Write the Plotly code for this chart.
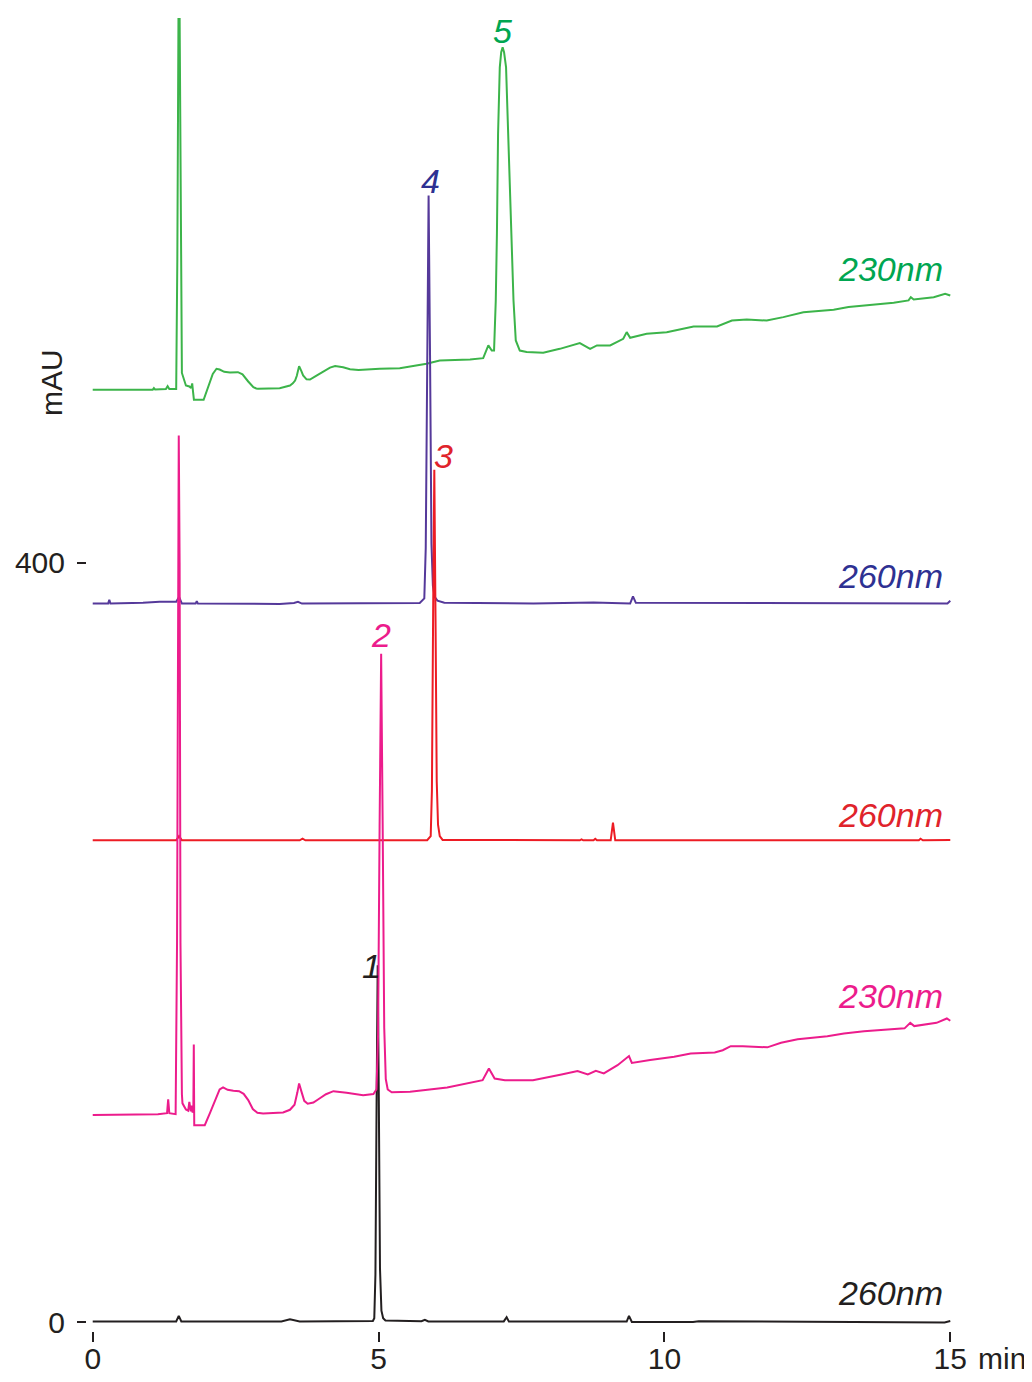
import plotly.graph_objects as go

# ---------------- data (time in min, absorbance in mAU) ----------------
green_t = [0.00, 1.05, 1.07, 1.09, 1.28, 1.31, 1.34, 1.46, 1.48, 1.50, 1.52, 1.54, 1.56, 1.63, 1.69,
           1.72, 1.74, 1.755, 1.77, 1.94, 2.02, 2.10, 2.165, 2.22, 2.30, 2.40, 2.54, 2.62, 2.72, 2.81, 2.86,
           2.89, 3.27, 3.45, 3.50, 3.54, 3.57, 3.61, 3.65, 3.68, 3.74, 3.80, 3.90, 4.05, 4.15, 4.24, 4.38,
           4.50, 4.65, 5.02, 5.37, 5.84, 6.07, 6.60, 6.83, 6.92, 6.98,
           7.02, 7.05, 7.07, 7.09, 7.12, 7.145, 7.17, 7.195, 7.23, 7.27, 7.32, 7.36, 7.40, 7.47, 7.59, 7.88, 8.17,
           8.52, 8.70, 8.82, 9.05, 9.28, 9.34, 9.40, 9.69, 10.04, 10.51, 10.92, 11.18, 11.44, 11.79,
           12.08, 12.43, 12.96, 13.22, 13.54, 14.01, 14.27, 14.31, 14.36, 14.71, 14.91, 15.00]
green_v = [491.2, 491.2, 492.0, 491.3, 491.5, 493.0, 491.5, 491.5, 560.0, 688.0, 688.0, 560.0, 500.0, 493.4, 492.9,
           492.0, 494.5, 490.0, 485.9, 485.9, 493.0, 499.5, 502.2, 501.8, 500.6, 500.3, 500.4, 499.3, 495.5, 492.5, 491.8,
           491.7, 492.0, 493.4, 494.5, 496.0, 498.5, 503.6, 501.0, 498.7, 496.6, 496.5, 498.3, 501.2, 502.8, 503.6, 503.0,
           502.0, 501.6, 502.2, 502.5, 504.8, 506.6, 507.1, 507.8, 514.5, 511.8,
           511.8, 538.2, 573.3, 626.0, 661.0, 669.0, 671.6, 669.0, 661.0, 626.0, 573.3, 538.2, 517.1, 511.8, 511.0, 510.6, 512.7,
           515.7, 512.7, 514.5, 514.5, 518.0, 521.5, 518.5, 520.6, 521.5, 524.5, 524.5, 527.6, 528.2, 527.6,
           529.4, 532.0, 533.3, 534.7, 535.6, 537.0, 538.2, 539.9, 538.7, 539.9, 541.7, 540.8]

blue_t = [0.00, 0.27, 0.29, 0.31, 0.88, 1.17, 1.46, 1.51, 1.56, 1.80, 1.82, 1.84, 3.27, 3.52, 3.59, 3.66,
          5.72, 5.80, 5.825, 5.85, 5.875, 5.90, 5.925, 5.95, 5.98, 6.03, 6.15, 7.71, 8.76, 9.40, 9.45,
          9.50, 10.51, 14.95, 15.00]
blue_v = [378.5, 378.5, 380.5, 378.5, 378.9, 379.4, 379.4, 382.0, 378.5, 378.5, 379.8, 378.5, 378.3, 378.8, 379.4, 378.5,
          378.8, 381.2, 407.8, 509.7, 593.5, 509.7, 410.0, 388.0, 382.0, 380.0, 378.9, 378.5, 379.0, 378.5, 382.3,
          378.9, 378.9, 378.6, 380.0]

red_t = [0.00, 1.46, 1.51, 1.56, 3.62, 3.67, 3.72, 5.85, 5.912, 5.933, 5.954, 5.975, 5.996, 6.017, 6.04,
         6.07, 6.12, 8.52, 8.55, 8.58, 8.76, 8.79, 8.82, 9.06, 9.10, 9.14, 14.45, 14.48, 14.52, 15.00]
red_v = [253.8, 253.8, 256.0, 253.8, 253.8, 254.6, 253.8, 253.8, 256.0, 280.0, 372.0, 449.0, 372.0, 285.0, 262.0,
         256.0, 254.0, 253.8, 254.3, 253.8, 253.8, 254.6, 253.8, 253.8, 263.1, 253.8, 253.8, 254.6, 253.8, 254.0]

pink_t = [0.00, 1.14, 1.30, 1.32, 1.34, 1.38, 1.45, 1.475, 1.49, 1.505, 1.52, 1.535, 1.56, 1.57, 1.63, 1.67,
          1.69, 1.715, 1.73, 1.745, 1.76, 1.768, 1.776, 1.96, 2.05, 2.15, 2.22, 2.28, 2.36, 2.46, 2.56, 2.64,
          2.72, 2.80, 2.88, 2.98, 3.33, 3.45, 3.53, 3.58, 3.61, 3.65, 3.70, 3.76, 3.86, 3.96, 4.08, 4.21,
          4.33, 4.44, 4.73, 4.91, 4.964, 4.991, 5.018, 5.045, 5.072, 5.099, 5.126,
          5.16, 5.23, 5.55, 6.20, 6.82, 6.93, 7.03, 7.21, 7.70, 8.20, 8.48, 8.66, 8.80, 8.94, 9.18, 9.38,
          9.43, 9.75, 10.17, 10.46, 10.88, 11.02, 11.16, 11.37, 11.80, 12.04, 12.33, 12.85, 13.14, 13.49,
          14.20, 14.30, 14.37, 14.76, 14.94, 15.00]
pink_v = [109.0, 109.5, 110.0, 117.3, 110.0, 109.9, 109.5, 200.0, 400.0, 467.0, 400.0, 200.0, 120.0, 115.2, 112.0, 111.3,
          116.0, 111.0, 114.0, 110.5, 111.0, 146.2, 103.7, 103.7, 110.0, 118.0, 122.5, 123.6, 122.3, 121.8, 121.6, 120.2,
          116.9, 112.2, 110.2, 109.9, 110.4, 111.8, 114.5, 121.0, 125.7, 121.5, 116.5, 115.0, 115.6, 117.6, 120.0, 121.6,
          121.3, 120.8, 119.5, 120.1, 122.6, 151.3, 260.8, 352.0, 260.8, 155.0, 128.0,
          122.5, 121.0, 121.3, 123.5, 127.4, 133.6, 128.3, 127.4, 127.4, 130.4, 132.2, 130.4, 132.3, 131.0, 135.3, 140.1,
          136.5, 138.0, 139.7, 141.5, 142.0, 143.2, 145.3, 145.3, 144.7, 147.1, 149.0, 150.6, 152.0, 153.2,
          154.7, 157.6, 155.9, 157.6, 159.9, 158.7]

black_t = [0.00, 1.46, 1.505, 1.55, 3.30, 3.45, 3.62, 4.90, 4.925, 4.945, 4.965, 4.985, 5.005, 5.025, 5.05,
           5.08, 5.12, 5.75, 5.81, 5.87, 7.19, 7.24, 7.28, 9.34, 9.38, 9.43, 10.50, 10.60, 14.90, 15.00]
black_v = [0.3, 0.3, 3.2, 0.3, 0.3, 1.4, 0.3, 0.5, 2.0, 25.0, 114.0, 188.0, 114.0, 28.0, 6.0,
           2.0, 0.8, 0.4, 1.2, 0.3, 0.3, 2.5, 0.2, 0.2, 3.2, 0.0, 0.0, 0.4, -0.2, 0.5]

x_ticks = [0, 5, 10, 15]
x_tick_labels = ["0", "5", "10", "15"]
y_ticks = [0, 400]
y_tick_labels = ["0", "400"]

wavelength_labels = ["230nm", "260nm", "260nm", "230nm", "260nm"]
peak_labels = ["5", "4", "3", "2", "1"]

# ---------------- styling ----------------
FONT = "Liberation Sans, Arial, Helvetica, sans-serif"
DARK = "#231F20"

series = [
    # (t, v, line colour, text colour, wavelength label, label y, peak label, peak x, peak y)
    (green_t, green_v, "#3CB44A", "#00A651", wavelength_labels[0], 555.0, peak_labels[0], 7.16, 680.0),
    (blue_t, blue_v, "#55399A", "#2E3192", wavelength_labels[1], 392.8, peak_labels[1], 5.90, 601.0),
    (red_t, red_v, "#ED1C24", "#E0232B", wavelength_labels[2], 267.0, peak_labels[2], 6.13, 456.0),
    (black_t, black_v, "#231F20", "#231F20", wavelength_labels[4], 15.3, peak_labels[4], 4.87, 187.5),
    (pink_t, pink_v, "#EC1C8C", "#EC1C8C", wavelength_labels[3], 171.7, peak_labels[3], 5.04, 362.0),
]

fig = go.Figure()
annotations = []
for t, v, lc, tc, wl, wly, pl, px, py in series:
    fig.add_trace(go.Scatter(x=t, y=v, mode="lines",
                             line=dict(color=lc, width=2),
                             hoverinfo="skip", showlegend=False))
    annotations.append(dict(x=14.91, y=wly, xref="x", yref="y", text=wl, showarrow=False,
                            xanchor="right", yanchor="middle",
                            font=dict(family=FONT, size=34, color=tc, style="italic")))
    annotations.append(dict(x=px, y=py, xref="x", yref="y", text=pl, showarrow=False,
                            xanchor="center", yanchor="middle",
                            font=dict(family=FONT, size=34, color=tc, style="italic")))

# axis titles
annotations.append(dict(x=-0.0407, y=495.0, xref="paper", yref="y", text="mAU", showarrow=False,
                        textangle=-90, xanchor="center", yanchor="middle",
                        font=dict(family=FONT, size=30, color=DARK)))
annotations.append(dict(x=1.0234, y=-0.0206, xref="paper", yref="paper", text="min", showarrow=False,
                        xanchor="left", yanchor="middle",
                        font=dict(family=FONT, size=30, color=DARK)))

# the page body has an 8px margin, so the figure is made 8px smaller and margins shifted
fig.update_layout(
    width=1024, height=1374,
    margin=dict(l=79, r=76, t=10, b=51, autoexpand=False),
    paper_bgcolor="white", plot_bgcolor="white",
    annotations=annotations,
    font=dict(family=FONT, size=30, color=DARK),
    xaxis=dict(range=[-0.1, 15.1], showgrid=False, zeroline=False, showline=False, automargin=False,
               tickmode="array", tickvals=x_ticks, ticktext=x_tick_labels,
               ticks="outside", ticklen=10, tickwidth=1.5, tickcolor=DARK,
               ticklabelstandoff=-9,
               tickfont=dict(family=FONT, size=30, color=DARK)),
    yaxis=dict(range=[-4.74, 687.0], showgrid=False, zeroline=False, showline=False, automargin=False,
               tickmode="array", tickvals=y_ticks, ticktext=y_tick_labels,
               ticks="outside", ticklen=9, tickwidth=1.5, tickcolor=DARK,
               ticklabelstandoff=6,
               tickfont=dict(family=FONT, size=30, color=DARK)),
)

fig.write_html("out.html")
